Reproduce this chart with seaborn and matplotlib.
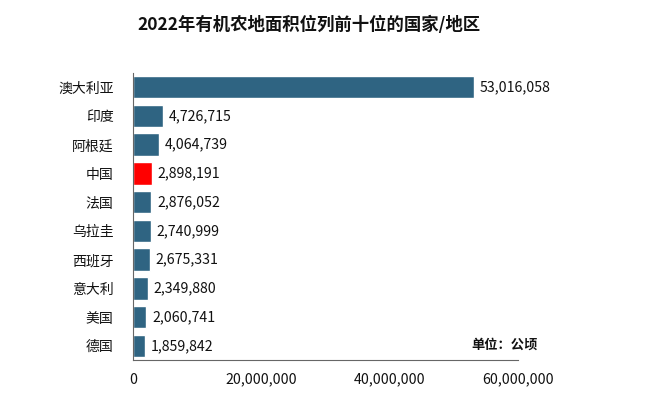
import matplotlib
matplotlib.use("Agg")
import matplotlib.pyplot as plt
import numpy as np
import pandas as pd
import seaborn as sns

sns.set_style("white")
plt.rcParams['font.family'] = ['Noto Sans CJK SC', 'DejaVu Sans']

countries = ['澳大利亚', '印度', '阿根廷', '中国', '法国', '乌拉圭', '西班牙', '意大利', '美国', '德国']
areas = [53016058, 4726715, 4064739, 2898191, 2876052, 2740999, 2675331, 2349880, 2060741, 1859842]
highlight = '中国'
title = '2022年有机农地面积位列前十位的国家/地区'
unit_note = '单位：公顷'
xticks = [0, 20000000, 40000000, 60000000]

bar_color = '#2F6482'
hl_color = '#FF0000'

df = pd.DataFrame({'country': countries, 'area': areas})
palette = {c: (hl_color if c == highlight else bar_color) for c in countries}

fig = plt.figure(figsize=(6.68, 3.98), dpi=100)
ax = fig.add_axes([0.199, 0.095, 0.577, 0.722])

sns.barplot(data=df, x='area', y='country', hue='country', palette=palette,
            order=countries, legend=False, width=0.78, saturation=1, ax=ax)

for i, v in enumerate(areas):
    ax.text(v + 900000, i, '{:,}'.format(v), va='center', ha='left', fontsize=10.2, color='#111111')

ax.set_xlim(0, 60000000)
ax.set_xticks(xticks)
ax.set_xticklabels(['{:,}'.format(t) for t in xticks], fontsize=10.2, color='#111111')
ax.set_ylim(len(countries) - 0.5, -0.5)
ax.set_yticks(np.arange(len(countries)))
ax.set_yticklabels(countries, fontsize=10, color='#111111')
ax.tick_params(axis='y', length=0, pad=14)
# boundary ticks on the category axis
ax.set_yticks(np.arange(len(countries) + 1) - 0.5, minor=True)
ax.tick_params(axis='y', which='minor', length=4, color='#666666', width=0.8)
ax.tick_params(axis='x', length=4, color='#666666', width=0.8, pad=5)
ax.set_xlabel('')
ax.set_ylabel('')

for s in ['top', 'right']:
    ax.spines[s].set_visible(False)
for s in ['left', 'bottom']:
    ax.spines[s].set_color('#666666')
    ax.spines[s].set_linewidth(0.8)

ax.text(0.965, 0.055, unit_note, transform=ax.transAxes, fontsize=9.5,
        fontweight='bold', ha='center', va='center', color='#111111')

fig.suptitle(title, x=0.462, y=0.96, fontsize=12.5, fontweight='bold', color='#111111')

fig.savefig('out.png', dpi=100)
